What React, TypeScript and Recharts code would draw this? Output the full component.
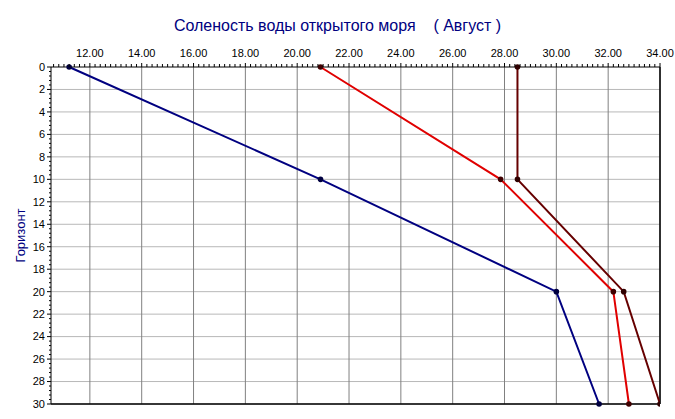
import { Line, LineChart, ReferenceLine, XAxis, YAxis } from 'recharts'

// Соленость по горизонтам (август)
const depths = [0, 10, 20, 30]
const blueSeries = [11.2, 20.9, 30.0, 31.65]
const redSeries = [20.9, 27.85, 32.2, 32.8]
const maroonSeries = [28.5, 28.5, 32.6, 34.0]

const xMajorTicks = [12, 14, 16, 18, 20, 22, 24, 26, 28, 30, 32, 34]
const yMajorTicks = [0, 2, 4, 6, 8, 10, 12, 14, 16, 18, 20, 22, 24, 26, 28, 30]
const X_MIN = 10.5
const X_MAX = 34
const X_MINOR_STEP = 0.2
const Y_MINOR_STEP = 0.4

const TITLE = 'Соленость воды открытого моря    ( Август )'
const Y_LABEL = 'Горизонт'

const FONT = "'Liberation Sans', Arial, sans-serif"

const xMinorTicks = Array.from(
  { length: Math.round((X_MAX - 10.6) / X_MINOR_STEP) + 1 },
  (_, i) => +(10.6 + i * X_MINOR_STEP).toFixed(2)
)
const yMinorTicks = Array.from(
  { length: Math.round(30 / Y_MINOR_STEP) + 1 },
  (_, i) => +(i * Y_MINOR_STEP).toFixed(2)
)

const rows = depths.map((d, i) => ({
  depth: d,
  blue: blueSeries[i],
  red: redSeries[i],
  maroon: maroonSeries[i],
}))

const isMajor = (v: number) => {
  const r = Math.round(v)
  return Math.abs(v - r) < 1e-6 && r % 2 === 0
}

function XTick({ x, y, payload }: any) {
  const major = isMajor(payload.value)
  return (
    <g>
      <line x1={x} x2={x} y1={y} y2={y - (major ? 4 : 3)} stroke="#000" />
      {major && (
        <text x={x} y={y - 10} textAnchor="middle" fontSize={11} fontFamily={FONT} fill="#000">
          {payload.value.toFixed(2)}
        </text>
      )}
    </g>
  )
}

function YTick({ x, y, payload }: any) {
  const major = isMajor(payload.value)
  return (
    <g>
      <line x1={x} x2={x - (major ? 4 : 2)} y1={y} y2={y} stroke="#000" />
      {major && (
        <text x={x - 6} y={y} dy="0.35em" textAnchor="end" fontSize={11} fontFamily={FONT} fill="#000">
          {payload.value}
        </text>
      )}
    </g>
  )
}

export default function App() {
  return (
    <div style={{ position: 'absolute', left: 0, top: 0, width: 675, height: 419, background: '#fff' }}>
      <div
        style={{
          position: 'absolute',
          left: 0,
          top: 18,
          width: 675,
          textAlign: 'center',
          fontFamily: FONT,
          fontSize: 16,
          lineHeight: '16px',
          color: '#000080',
          whiteSpace: 'pre',
        }}
      >
        {TITLE}
      </div>
      <LineChart
        width={675}
        height={419}
        data={rows}
        layout="vertical"
        margin={{ top: 39, right: 15, bottom: 15, left: 0 }}
      >
        <XAxis
          type="number"
          orientation="top"
          domain={[X_MIN, X_MAX]}
          ticks={xMinorTicks}
          interval={0}
          height={28}
          tickSize={0}
          tickMargin={0}
          tick={<XTick />}
          axisLine={{ stroke: '#000' }}
          allowDataOverflow
        />
        <YAxis
          type="number"
          dataKey="depth"
          domain={[0, 30]}
          ticks={yMinorTicks}
          interval={0}
          width={51}
          tickSize={0}
          tickMargin={0}
          tick={<YTick />}
          axisLine={{ stroke: '#000' }}
          label={{
            value: Y_LABEL,
            angle: -90,
            position: 'insideLeft',
            offset: 20,
            style: { textAnchor: 'middle', fill: '#000080', fontSize: 13, fontFamily: FONT },
          }}
        />
        {yMajorTicks.slice(1).map((v) => (
          <ReferenceLine key={`h-${v}`} y={v} stroke="#b8b8b8" strokeWidth={1} />
        ))}
        {xMajorTicks.map((v) => (
          <ReferenceLine key={`v-${v}`} x={v} stroke="#808080" strokeWidth={1} />
        ))}
        <ReferenceLine x={X_MAX} stroke="#000" strokeWidth={1.5} />
        <ReferenceLine y={30} stroke="#000" strokeWidth={1.5} />
        <Line
          dataKey="blue"
          stroke="#000080"
          strokeWidth={2}
          dot={{ r: 1.8, fill: '#000040', stroke: '#000040' }}
          isAnimationActive={false}
        />
        <Line
          dataKey="red"
          stroke="#e00000"
          strokeWidth={2}
          dot={{ r: 1.8, fill: '#400000', stroke: '#400000' }}
          isAnimationActive={false}
        />
        <Line
          dataKey="maroon"
          stroke="#660000"
          strokeWidth={2}
          dot={{ r: 1.8, fill: '#300000', stroke: '#300000' }}
          isAnimationActive={false}
        />
      </LineChart>
    </div>
  )
}
